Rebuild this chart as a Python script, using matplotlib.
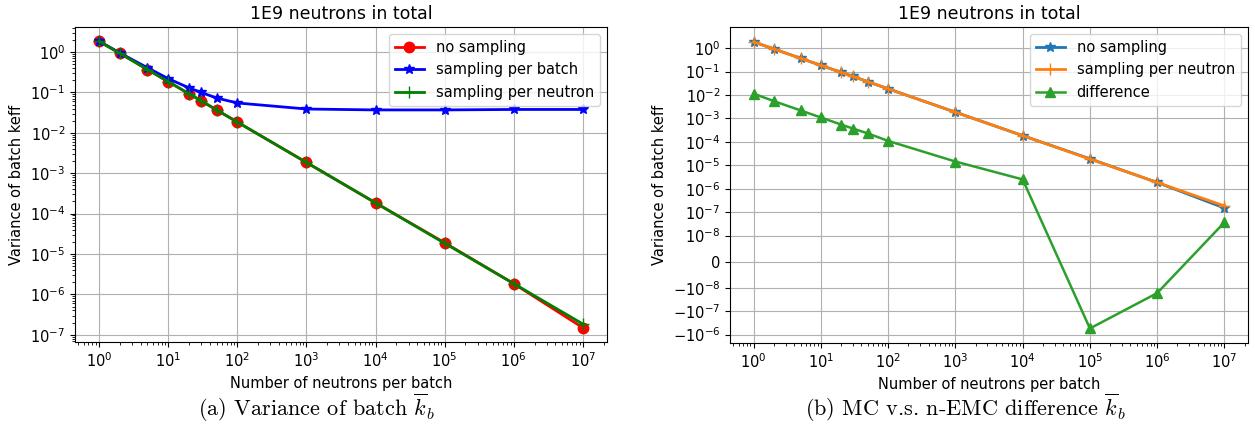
import numpy as np
import matplotlib.pyplot as plt

# neutrons per batch
n_per_batch = [1, 2, 5, 10, 20, 30, 50, 100, 1e3, 1e4, 1e5, 1e6, 1e7]

# variance of batch keff
var_no_sampling = [1.85, 0.93, 0.37, 0.185, 0.093, 0.062, 0.037, 0.0185,
                   1.85e-3, 1.85e-4, 1.9e-5, 1.85e-6, 1.5e-7]
var_per_batch = [1.85, 0.95, 0.41, 0.22, 0.13, 0.10, 0.073, 0.055,
                 0.039, 0.037, 0.037, 0.038, 0.038]
var_per_neutron = [1.85, 0.93, 0.37, 0.185, 0.093, 0.062, 0.037, 0.0185,
                   1.85e-3, 1.85e-4, 1.85e-5, 1.85e-6, 1.85e-7]
var_difference = [1.15e-2, 5.5e-3, 2.2e-3, 1.1e-3, 5.5e-4, 3.7e-4, 2.3e-4, 1.1e-4,
                  1.45e-5, 2.5e-6, -5.5e-7, -1.7e-8, 3.7e-8]
symlog_ticks = [1e0, 1e-1, 1e-2, 1e-3, 1e-4, 1e-5, 1e-6, 1e-7, 1e-8, 0,
                -1e-8, -1e-7, -1e-6]

plt.rcParams['font.size'] = 10.5
plt.rcParams['mathtext.fontset'] = 'cm'

W, H = 1255, 446
fig = plt.figure(figsize=(W / 100, H / 100), dpi=100)
ax1 = fig.add_axes([75 / W, 1 - 342 / H, (607 - 75) / W, (342 - 27) / H])
ax2 = fig.add_axes([730 / W, 1 - 343 / H, (1248 - 730) / W, (343 - 27) / H])

# (a) variance of batch keff
ax1.plot(n_per_batch, var_no_sampling, 'r-o', lw=2, ms=7.5, label='no sampling')
ax1.plot(n_per_batch, var_per_batch, 'b-*', lw=2, ms=7.5, label='sampling per batch')
ax1.plot(n_per_batch, var_per_neutron, 'g-+', lw=2, ms=8, label='sampling per neutron')
ax1.set_xscale('log')
ax1.set_yscale('log')
ax1.grid(True)
ax1.set_title('1E9 neutrons in total', fontsize=12.5)
ax1.set_xlabel('Number of neutrons per batch')
ax1.set_ylabel('Variance of batch keff')
ax1.legend(loc='upper right')

# (b) MC vs n-EMC difference
ax2.plot(n_per_batch, var_no_sampling, '-*', color='tab:blue', lw=2, ms=7.5, label='no sampling')
ax2.plot(n_per_batch, var_per_neutron, '-+', color='tab:orange', lw=2, ms=8, label='sampling per neutron')
ax2.plot(n_per_batch, var_difference, '-^', color='tab:green', lw=1.8, ms=7.5, label='difference')
ax2.set_xscale('log')
ax2.set_yscale('symlog', linthresh=1e-8)
ax2.set_yticks(symlog_ticks)
ax2.yaxis.set_minor_locator(plt.NullLocator())
ax2.set_ylim(-2.3e-6, 8)
ax2.grid(True)
ax2.set_title('1E9 neutrons in total', fontsize=12.5)
ax2.set_xlabel('Number of neutrons per batch')
ax2.set_ylabel('Variance of batch keff')
ax2.legend(loc='upper right')

fig.text(317 / W, 1 - 408 / H, r'(a) Variance of batch $\overline{k}_b$',
         ha='center', va='center', fontsize=16, family='cmr10')
fig.text(965 / W, 1 - 408 / H, r'(b) MC v.s. n-EMC difference $\overline{k}_b$',
         ha='center', va='center', fontsize=16, family='cmr10')

fig.savefig('out.png', dpi=100)
